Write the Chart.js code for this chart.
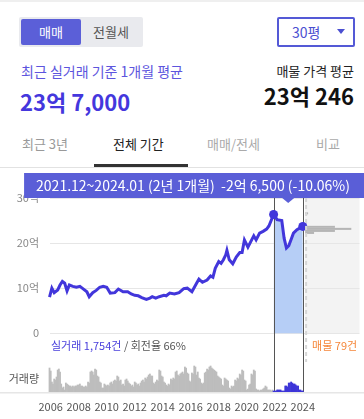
<!DOCTYPE html>
<html>
<head>
<meta charset="utf-8">
<script src="https://cdn.jsdelivr.net/npm/chart.js@4"></script>
<style>
body{margin:0;width:364px;height:419px;overflow:hidden;background:#fff;position:relative;font-family:'Noto Sans CJK KR',sans-serif}
div{position:absolute;white-space:nowrap}
.topbar{left:0;top:0;width:364px;height:2px;background:#efefef}
.seg{left:19px;top:17px;width:124px;height:30px;background:#e9eaee;border-radius:2px}
.seg .on{left:2px;top:2px;width:60px;height:26px;background:#5b5fd8;border-radius:2px;color:#fff;font-size:13px;line-height:26px;text-align:center}
.seg .off{left:62px;top:2px;width:60px;height:26px;color:#555;font-size:13px;line-height:26px;text-align:center}
.dd{left:277px;top:17px;width:78px;height:30px;box-sizing:border-box;border:2px solid #5459d6;border-radius:2px}
.dd span{position:absolute;left:13px;top:0;line-height:26px;font-size:14px;color:#4b4fd1}
.dd i{position:absolute;left:58px;top:10px;width:0;height:0;border-left:4px solid transparent;border-right:4px solid transparent;border-top:5px solid #4b4fd1}
.lbl{left:21px;top:62px;font-size:14px;line-height:18px;color:#5d55de}
.big{left:20px;top:86px;font-size:22px;font-weight:bold;line-height:30px;color:#4437dd}
.lbl2{right:10px;top:62px;font-size:13px;line-height:18px;color:#222}
.big2{right:10px;top:80px;font-size:22px;font-weight:bold;line-height:30px;color:#111}
.tab{top:135px;font-size:13px;line-height:18px;color:#aaa}
.underline{left:94px;top:164px;width:94px;height:3px;background:#333}
.divider{left:0;top:167px;width:364px;height:1px;background:#e2e2e2}
.wrap{left:0;top:167px;width:364px;height:252px}
</style>
</head>
<body>
<div class="topbar"></div>
<div class="seg"><div class="on">매매</div><div class="off">전월세</div></div>
<div class="dd"><span>30평</span><i></i></div>
<div class="lbl">최근 실거래 기준 1개월 평균</div>
<div class="big">23억 7,000</div>
<div class="lbl2">매물 가격 평균</div>
<div class="big2">23억 246</div>
<div class="tab" style="left:22px;color:#999">최근 3년</div>
<div class="tab" style="left:113px;color:#222">전체 기간</div>
<div class="tab" style="left:207px">매매/전세</div>
<div class="tab" style="left:316px">비교</div>
<div class="divider"></div>
<div class="underline"></div>
<div class="wrap"><canvas id="chart"></canvas></div>
<script>
// 실거래 월평균 가격 (억)
const priceMonths = ['2005.12','2006.02','2006.04','2006.07','2006.09','2006.11','2007.01','2007.03','2007.05','2007.08','2007.11',
  '2008.02','2008.04','2008.08','2008.10','2009.01','2009.04','2009.07','2009.10','2010.01','2010.04','2010.08','2010.11',
  '2011.03','2011.07','2011.10','2012.01','2012.04','2012.07','2012.11','2013.02','2013.04','2013.07','2013.10',
  '2014.02','2014.04','2014.07','2014.11','2015.03','2015.07','2015.10','2016.02','2016.06','2016.08','2016.11',
  '2017.03','2017.06','2017.08','2017.10','2018.01','2018.03','2018.05','2018.07','2018.08','2018.10',
  '2019.01','2019.04','2019.07','2019.09','2019.11','2020.02','2020.04','2020.07','2020.09','2020.12',
  '2021.03','2021.06','2021.08','2021.12','2022.03','2022.07','2022.09','2022.11','2023.01','2023.05','2023.08','2024.01'];
const priceValues = [8.0,10.0,9.0,9.6,10.7,11.5,11.1,9.4,10.7,10.4,10.2,
  10.4,10.0,9.2,8.1,9.0,9.5,10.2,10.4,10.2,8.9,9.0,9.8,
  9.2,9.2,8.7,8.4,8.3,7.9,7.5,7.8,8.1,7.8,8.1,
  8.4,8.3,8.9,8.7,9.0,9.9,10.0,9.2,11.1,12.0,11.3,
  11.8,12.7,12.4,14.4,15.9,15.5,16.3,17.4,18.4,16.3,
  15.4,16.9,17.9,17.9,20.7,19.1,20.1,21.6,20.7,22.2,
  22.6,23.1,23.8,26.35,25.2,25.0,21.1,18.9,19.4,22.2,22.95,23.7];

// 월별 거래량 (2005.12 ~ 2024.01)
const volumeStart = '2005.12';
const volumes = [24,21,10,8,13,12,15,22,23,20,8,4,5,
  2,9,8,7,6,6,5,6,5,6,6,7,
  7,8,6,6,5,5,6,5,10,9,20,21,
  20,17,23,22,16,15,10,9,4,4,8,7,
  6,7,6,9,10,8,11,12,11,16,15,11,
  12,7,8,6,12,13,11,9,8,6,7,5,
  10,9,7,8,6,9,11,12,10,14,13,15,
  17,18,16,16,9,8,10,12,11,22,21,16,
  15,10,9,7,6,8,7,13,12,14,13,20,
  21,17,16,18,19,20,18,25,24,19,18,11,
  10,19,18,26,25,17,20,14,13,9,8,9,
  19,20,23,22,25,26,24,23,22,21,20,16,
  15,14,13,7,6,14,13,12,11,4,3,6,
  5,6,12,11,14,13,18,17,22,21,12,11,
  2,3,7,8,18,17,22,21,3,2,2,1,
  2,2,3,4,6,5,2,2,2,1,2,1,
  1,1,2,2,2,2,1,1,1,6,6,5,
  9,9,10,9,8,8,7,6,6,2,2,1,
  1];

// 매물 가격 분포 (억, 건)
const listingFrom = '2024.03';
const listingPrices = [26.6, 23.6, 23.15, 22.7, 22.25];
const listingCounts = [2, 20, 31, 20, 6];

const selStart = '2021.12';
const selEnd = '2024.01';
const yTicks = [0, 10, 20, 30];
const xTicks = [2006, 2008, 2010, 2012, 2014, 2016, 2018, 2020, 2022, 2024];
const tradeLabel = '실거래 1,754건';
const turnoverLabel = ' / 회전율 66%';
const listingLabel = '매물 79건';

const FONT = "'Noto Sans CJK KR', sans-serif";
Chart.defaults.font.family = FONT;

const toYear = s => Number(s.slice(0, 4)) + (Number(s.slice(5)) - 1) / 12;
const xMin = 2005.95, xMax = 2028.05;
const listingPerYear = 9.4;
const lFrom = toYear(listingFrom);

const pricePoints = priceMonths.map((m, i) => ({ x: toYear(m), y: priceValues[i] }));
const iStart = priceMonths.indexOf(selStart), iEnd = priceMonths.indexOf(selEnd);
const selPoints = pricePoints.slice(iStart, iEnd + 1);
const vStart = toYear(volumeStart);
const volumePoints = volumes.map((v, i) => ({ x: vStart + i / 12, y: v }));
const selVolIdx = Math.round((toYear(selStart) - vStart) * 12);

// 툴팁 문구
const startV = priceValues[iStart], endV = priceValues[iEnd];
const diff = endV - startV;
const months = Math.round((toYear(selEnd) - toYear(selStart)) * 12);
const absDiff = Math.abs(diff);
const eok = Math.floor(absDiff + 1e-9);
const man = Math.round((absDiff - eok) * 10000);
const tipText = `${selStart}~${selEnd} (${Math.floor(months / 12)}년 ${months % 12}개월)  ` +
  `${diff < 0 ? '-' : '+'}${eok}억 ${man.toLocaleString('en-US')} (${(diff / startV * 100).toFixed(2)}%)`;

const noPad = s => { s.paddingLeft = 0; s.paddingRight = 0; };

const deco = {
  id: 'deco',
  beforeDraw(chart) {
    const { ctx, chartArea: a, scales: { x, y } } = chart;
    const lx = x.getPixelForValue(lFrom);
    ctx.save();
    ctx.fillStyle = '#f3f3f3';
    ctx.fillRect(lx, a.top, a.right - lx, y.getPixelForValue(0) - a.top);
    ctx.restore();
  },
  afterDatasetDraw(chart, args) {
    if (args.index !== 0) return;
    const { ctx, chartArea: a, scales: { x } } = chart;
    ctx.save();
    ctx.strokeStyle = '#555';
    ctx.lineWidth = 1;
    [selStart, selEnd].forEach(m => {
      const px = Math.round(x.getPixelForValue(toYear(m))) + 0.5;
      ctx.beginPath(); ctx.moveTo(px, a.top); ctx.lineTo(px, a.bottom); ctx.stroke();
    });
    ctx.restore();
  },
  afterDatasetsDraw(chart) {
    const { ctx, chartArea: a, scales: { x, y, l } } = chart;
    const lx = x.getPixelForValue(lFrom);
    const y0 = y.getPixelForValue(0);
    ctx.save();
    // 매물 분포
    ctx.fillStyle = '#b5b5b5';
    listingPrices.forEach((p, i) => {
      const top = y.getPixelForValue(p + 0.225), bot = y.getPixelForValue(p - 0.225);
      const x0 = l.getPixelForValue(0), x1 = l.getPixelForValue(listingCounts[i]);
      ctx.fillRect(x0, top, x1 - x0, bot - top);
    });
    // 오늘 기준 점선
    ctx.strokeStyle = '#d6d6d6';
    ctx.lineWidth = 2;
    ctx.setLineDash([4, 3]);
    ctx.beginPath(); ctx.moveTo(lx + 1, a.top); ctx.lineTo(lx + 1, a.bottom - 30); ctx.stroke();
    ctx.setLineDash([]);
    // 바닥선
    ctx.fillStyle = '#e6e6e6';
    ctx.fillRect(0, a.bottom, chart.width, 1.5);
    // 라벨
    ctx.font = '11px ' + FONT;
    ctx.textBaseline = 'middle';
    ctx.textAlign = 'left';
    const ty = y0 + 12.5;
    ctx.fillStyle = '#4a40dc';
    ctx.fillText(tradeLabel, a.left + 1, ty);
    const w = ctx.measureText(tradeLabel).width;
    ctx.fillStyle = '#555';
    ctx.fillText(turnoverLabel, a.left + 1 + w, ty);
    ctx.fillStyle = '#f5873a';
    ctx.fillText(listingLabel, lx + 7, ty);
    ctx.fillStyle = '#555';
    ctx.textAlign = 'right';
    ctx.fillText('거래량', a.left - 11, a.bottom - 13);
    // 툴팁
    ctx.font = '14px ' + FONT;
    const tw = ctx.measureText(tipText).width;
    const right = chart.width + 2;
    const left = right - tw - 28;
    const mid = (x.getPixelForValue(toYear(selStart)) + x.getPixelForValue(toYear(selEnd))) / 2;
    ctx.fillStyle = '#5a5ed7';
    ctx.fillRect(left, a.top - 25, right - left, 25);
    ctx.beginPath();
    ctx.moveTo(mid - 6, a.top); ctx.lineTo(mid + 6, a.top); ctx.lineTo(mid, a.top + 5); ctx.closePath(); ctx.fill();
    ctx.fillStyle = '#fff';
    ctx.textAlign = 'left';
    ctx.fillText(tipText, left + 12, a.top - 12.5);
    ctx.restore();
  }
};

new Chart(document.getElementById('chart'), {
  type: 'line',
  data: {
    datasets: [
      {
        type: 'line', data: selPoints, xAxisID: 'x', yAxisID: 'y',
        borderWidth: 0, borderColor: 'rgba(0,0,0,0)', pointRadius: 0,
        fill: 'origin', backgroundColor: '#b6cef6', order: 3
      },
      {
        type: 'bar', data: volumePoints, xAxisID: 'x', yAxisID: 'v',
        backgroundColor: volumes.map((v, i) => i >= selVolIdx ? '#3d35d8' : '#bdbdbd'),
        barPercentage: 1, categoryPercentage: 1, borderWidth: 0, order: 2, clip: false
      },
      {
        type: 'line', data: pricePoints, xAxisID: 'x', yAxisID: 'y',
        borderColor: '#4236db', borderWidth: 3, tension: 0, fill: false,
        pointRadius: c => (c.dataIndex === iStart || c.dataIndex === iEnd) ? 4.5 : 0,
        pointBackgroundColor: '#4236db', pointBorderWidth: 0, order: 1, clip: false
      }
    ]
  },
  options: {
    responsive: true,
    maintainAspectRatio: false,
    animation: false,
    events: [],
    layout: { padding: { top: 31, right: 4, left: 0, bottom: 0 } },
    plugins: { legend: { display: false }, tooltip: { enabled: false } },
    scales: {
      x: {
        type: 'linear', min: xMin, max: xMax, offset: false,
        afterBuildTicks: s => { s.ticks = xTicks.map(v => ({ value: v })); },
        afterFit: s => { s.height = 27; noPad(s); },
        grid: { display: false, drawTicks: false, offset: false },
        border: { display: false },
        ticks: { padding: 8, color: '#555', font: { size: 11 }, autoSkip: false, maxRotation: 0, callback: v => String(v) }
      },
      y: {
        type: 'linear', min: -13.04, max: 30,
        afterBuildTicks: s => { s.ticks = yTicks.map(v => ({ value: v })); },
        afterFit: s => { s.width = 50; },
        grid: { color: '#e6e6e6', drawTicks: false },
        border: { display: false },
        ticks: { padding: 11, color: '#888', font: { size: 11 }, callback: v => v === 0 ? '0' : v + '억' }
      },
      v: { type: 'linear', min: 0, max: 194, display: false },
      l: {
        type: 'linear', axis: 'x', position: 'bottom', display: false, offset: false,
        afterFit: noPad,
        min: -(lFrom - xMin) * listingPerYear, max: (xMax - lFrom) * listingPerYear
      }
    }
  },
  plugins: [deco]
});
</script>
</body>
</html>
